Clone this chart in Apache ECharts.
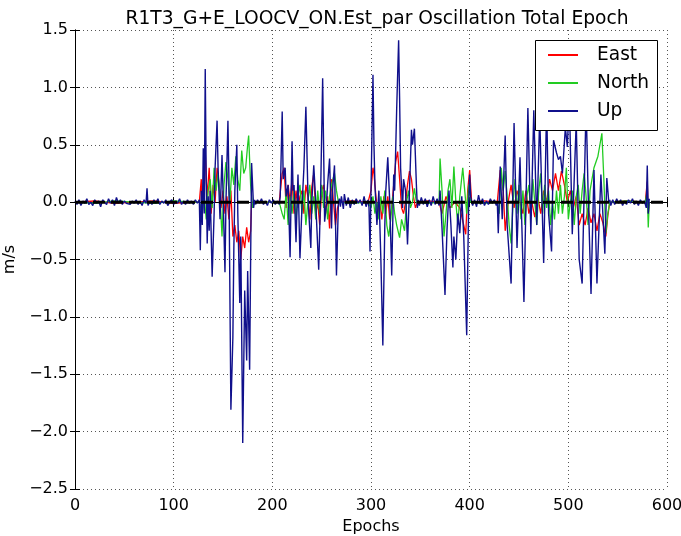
<!DOCTYPE html>
<html>
<head>
<meta charset="utf-8">
<script src="https://cdn.jsdelivr.net/npm/echarts@6/dist/echarts.min.js"></script>
<style>
html,body{margin:0;padding:0;background:#fff;}
#chart{width:681px;height:536px;}
</style>
</head>
<body>
<div id="chart"></div>
<script>
const chartTitle = 'R1T3_G+E_LOOCV_ON.Est_par Oscillation Total Epoch';
const xTicks = [0, 100, 200, 300, 400, 500, 600];
const yTicks = [-2.5, -2.0, -1.5, -1.0, -0.5, 0.0, 0.5, 1.0, 1.5];
const seriesNames = ['East', 'North', 'Up'];

// [epoch, m/s]
const eastData = [
  [0,0.0],[20,0.01],[40,-0.01],[60,0.0],[80,0.01],[100,-0.01],[120,0.0],[126,0.0],
  [127,0.0],[128,0.2],[129,-0.1],[130,0.15],[132,0.45],[133,0.2],[134,0.05],[136,0.3],[138,-0.1],[140,0.15],
  [142,0.0],[144,0.3],[146,0.15],[148,-0.05],[150,0.1],[152,-0.1],[154,0.05],[156,-0.15],[158,0.1],[160,-0.3],
  [162,-0.2],[164,-0.35],[166,-0.25],[168,-0.5],[170,-0.3],[172,-0.4],[174,-0.22],[176,-0.35],[178,-0.25],
  [179,0.0],[181,0.01],[195,0.0],[207,0.0],
  [208,0.0],[210,0.25],[212,0.3],[214,-0.05],[216,0.15],[218,0.0],[220,0.2],[222,-0.1],[224,0.1],[226,-0.05],
  [228,0.05],[230,0.1],[232,-0.1],[234,0.15],[236,0.05],[238,-0.15],[240,0.13],[242,0.25],[244,-0.1],[246,0.0],
  [248,-0.2],[250,0.1],[252,0.15],[254,-0.1],[256,0.05],[258,-0.23],[260,0.2],[262,0.0],[264,-0.2],[266,-0.05],
  [268,0.0],[280,0.01],[297,0.0],
  [298,0.0],[300,0.1],[302,0.3],[303,0.25],[305,0.05],[307,-0.1],[309,0.0],[311,-0.15],[313,0.05],[315,-0.1],
  [317,0.05],[319,-0.15],[321,-0.05],[323,0.15],[325,0.35],[327,0.44],[329,0.2],[331,-0.05],[333,-0.1],[335,0.0],
  [337,0.15],[339,0.27],[341,0.2],[343,0.05],[345,-0.05],[347,0.0],[358,0.01],[369,0.0],
  [370,0.0],[372,-0.1],[376,0.05],[380,-0.05],[385,0.0],[390,-0.05],[394,-0.2],[396,-0.28],[398,0.1],[400,0.28],
  [402,0.0],[415,0.01],[428,0.0],
  [431,0.28],[434,0.1],[436,-0.25],[439,0.0],[442,0.15],[445,-0.05],[448,0.1],[451,0.0],[454,-0.1],[457,0.1],
  [460,-0.1],[463,0.0],[466,-0.13],[469,0.05],[472,-0.1],[475,0.1],[478,0.0],[481,0.2],[484,0.1],[487,0.25],
  [490,0.1],[493,0.27],[496,0.15],[499,0.0],[502,0.1],[505,-0.05],[508,0.05],[511,-0.2],[514,-0.1],[517,-0.2],
  [520,-0.05],[523,-0.18],[526,-0.1],[529,-0.25],[532,-0.1],[535,-0.18],[538,-0.3],[540,-0.12],[542,0.0],
  [560,0.01],[578,0.0],[580,0.18],[581,-0.1],[582,0.0]
];

const northData = [
  [0,0.0],[20,-0.01],[40,0.01],[60,0.0],[80,-0.01],[100,0.01],[120,0.0],[126,0.0],
  [127,0.0],[129,-0.1],[131,0.05],[133,-0.15],[135,0.1],[137,0.2],[139,-0.05],[141,0.3],[143,0.1],[145,0.25],
  [147,0.05],[149,-0.3],[151,0.15],[153,0.35],[155,0.2],[157,0.0],[159,0.3],[161,0.15],[163,0.4],[165,0.2],
  [167,0.1],[169,0.45],[171,0.25],[173,0.3],[175,0.5],[176,0.58],[178,0.15],[180,-0.05],[182,0.0],[195,0.0],[207,0.0],
  [208,0.0],[210,-0.1],[212,-0.15],[214,0.1],[216,-0.2],[218,0.05],[220,-0.1],[222,0.1],[224,-0.15],[226,0.05],
  [228,0.15],[230,-0.1],[232,0.1],[234,-0.2],[236,0.0],[238,0.15],[240,-0.1],[242,0.05],[244,-0.15],[246,0.1],
  [248,-0.1],[250,0.15],[252,-0.05],[254,0.1],[256,-0.15],[258,0.05],[260,0.15],[263,0.25],[265,0.1],[267,0.0],
  [280,-0.01],[297,0.0],
  [298,0.0],[300,-0.05],[302,0.05],[304,-0.1],[306,0.0],[308,-0.15],[310,0.05],[312,-0.1],[314,0.1],[316,-0.2],
  [318,-0.3],[320,-0.15],[322,0.05],[324,-0.1],[326,-0.2],[329,-0.31],[331,-0.15],[334,-0.25],[336,0.0],[338,0.1],
  [340,-0.05],[342,0.0],[344,0.12],[346,0.0],[358,-0.01],[369,0.0],
  [370,0.38],[372,0.1],[374,-0.3],[376,-0.1],[378,0.1],[380,0.2],[382,-0.05],[384,0.31],[386,0.0],[388,-0.2],
  [390,0.05],[393,0.3],[395,0.1],[397,-0.1],[399,0.15],[401,0.0],[415,-0.01],[428,0.0],
  [430,-0.1],[432,0.3],[434,0.1],[436,0.27],[438,0.05],[440,-0.2],[442,-0.36],[444,0.0],[446,0.2],[448,-0.1],
  [450,0.15],[452,-0.15],[454,0.1],[456,-0.2],[458,0.05],[460,0.15],[462,-0.1],[464,0.2],[466,0.0],[468,-0.2],
  [470,0.1],[472,0.25],[474,-0.1],[476,0.15],[478,-0.05],[480,0.1],[482,-0.2],[484,0.0],[486,-0.15],[488,0.1],
  [490,-0.1],[492,0.15],[494,-0.1],[496,0.05],[498,0.3],[500,-0.15],[502,0.0],[504,0.1],[506,-0.2],[508,0.05],
  [510,0.15],[512,-0.1],[514,0.1],[516,0.25],[518,0.05],[520,-0.2],[522,0.1],[524,0.2],[526,0.3],[528,0.35],
  [530,0.4],[532,0.5],[534,0.6],[536,0.2],[538,-0.27],[540,-0.1],[542,0.0],[560,0.01],[578,0.0],
  [580,0.1],[581,-0.22],[582,0.0]
];

const upData = [
  [0,0.01],[2,-0.02],[4,0.02],[6,-0.03],[8,0.01],[10,-0.01],[12,0.03],[14,-0.02],[16,0.0],[18,-0.03],
  [20,0.02],[22,-0.01],[24,0.01],[26,-0.04],[28,0.02],[30,0.0],[32,-0.02],[34,0.03],[36,-0.01],[38,0.02],
  [40,-0.03],[42,0.04],[44,-0.01],[46,0.02],[48,-0.02],[50,0.01],[52,-0.01],[54,0.0],[56,-0.02],[58,0.01],
  [60,-0.01],[62,0.02],[64,-0.02],[66,0.01],[68,-0.03],[70,0.02],[72,-0.01],[73,0.12],[74,-0.03],[76,0.01],
  [78,-0.02],[80,0.02],[82,-0.01],[84,0.03],[86,-0.02],[88,0.01],[90,-0.01],[92,0.02],[94,-0.03],[96,0.0],
  [98,0.02],[100,-0.02],[102,0.01],[104,-0.01],[106,0.03],[108,-0.02],[110,0.01],[112,-0.02],[114,0.02],
  [116,-0.01],[118,0.01],[120,-0.02],[122,0.02],[124,-0.01],[126,0.02],
  [127,-0.42],[128,0.1],[129,-0.2],[130,0.47],[131,-0.1],[132,1.16],[133,0.2],[134,-0.36],[135,0.05],[136,-0.25],
  [137,0.1],[139,-0.65],[141,-0.1],[142,0.3],[144,0.71],[145,0.3],[147,-0.15],[149,0.41],[150,0.1],[152,-0.61],
  [153,0.0],[155,0.71],[156,0.2],[158,-1.81],[160,-1.18],[161,-0.4],[162,0.1],[164,0.5],[165,-0.1],[167,-0.88],
  [168,-0.3],[170,-2.1],[172,-0.77],[174,-1.38],[175,-0.6],[177,-1.46],[178,-0.5],[179,0.34],[181,-0.05],[182,0.02],
  [183,-0.02],[185,0.02],[187,-0.01],[189,0.03],[191,-0.02],[193,0.01],[195,-0.03],[197,0.02],[199,-0.01],
  [201,0.02],[203,-0.02],[205,0.01],[207,-0.02],
  [208,0.05],[210,0.79],[211,0.2],[213,0.30],[214,0.05],[216,0.15],[218,-0.48],[220,0.53],[221,0.1],[222,0.15],
  [224,-0.35],[226,0.24],[228,-0.49],[230,-0.05],[232,0.3],[234,0.83],[236,0.1],[237,-0.1],[239,-0.4],[240,0.0],
  [242,0.32],[244,0.0],[245,-0.2],[247,-0.59],[249,0.1],[251,1.08],[253,-0.17],[255,0.0],[256,0.15],[258,0.38],
  [260,-0.23],[261,0.1],[263,0.32],[265,-0.64],[267,0.0],[268,0.03],
  [269,-0.04],[270,0.05],[272,-0.06],[273,0.07],[275,-0.03],[277,0.04],[279,-0.05],[281,0.02],[283,-0.02],
  [285,0.03],[287,-0.01],[289,0.02],[291,-0.03],[293,0.05],[295,-0.04],[297,0.02],
  [298,-0.05],[299,-0.43],[300,0.1],[302,1.11],[303,0.5],[304,0.15],[306,-0.2],[308,0.1],[310,-0.5],[312,-1.25],
  [314,-0.2],[315,0.1],[317,0.39],[319,0.0],[321,-0.64],[323,0.24],[324,0.1],[326,0.8],[328,1.41],[329,0.9],
  [330,0.3],[332,-0.05],[333,0.2],[335,0.1],[337,-0.37],[339,0.1],[341,0.63],[342,0.5],[344,0.64],[345,0.4],
  [346,0.15],[347,-0.05],[348,0.02],
  [349,-0.03],[351,0.04],[353,-0.02],[355,0.03],[357,-0.04],[359,0.02],[361,-0.03],[363,0.05],[365,-0.02],
  [367,0.03],[369,-0.03],
  [370,0.1],[372,-0.23],[375,-0.81],[377,-0.25],[379,0.1],[381,-0.2],[383,-0.57],[384,-0.3],[386,-0.5],[388,-0.1],
  [390,-0.27],[392,0.05],[394,-0.3],[397,-1.16],[399,0.0],[400,0.24],[401,0.05],[402,0.0],
  [403,-0.03],[405,0.02],[407,-0.04],[409,0.06],[411,-0.02],[413,0.03],[415,-0.03],[417,0.01],[419,-0.02],
  [421,0.03],[423,-0.01],[425,0.02],[427,-0.03],
  [428,0.0],[429,-0.27],[431,0.31],[433,-0.15],[436,0.58],[438,-0.2],[442,-0.71],[445,0.69],[448,-0.40],[451,0.39],
  [455,-0.87],[459,0.82],[462,-0.28],[465,0.8],[468,-0.2],[471,0.75],[475,-0.53],[478,0.85],[480,-0.1],[483,-0.43],
  [485,0.54],[488,0.43],[490,0.37],[492,0.40],[494,0.25],[497,0.65],[499,0.48],[501,0.9],[504,-0.28],[508,0.7],
  [511,-0.5],[514,-0.71],[518,0.85],[520,0.1],[523,-0.8],[526,0.28],[529,-0.71],[533,0.24],[537,-0.45],[539,0.21],
  [541,0.0],[542,0.02],
  [543,-0.03],[545,0.02],[547,-0.02],[549,0.03],[551,-0.01],[553,0.02],[555,-0.03],[557,0.01],[559,-0.02],
  [561,0.02],[563,-0.01],[565,0.03],[567,-0.02],[569,0.01],[571,-0.03],[573,0.02],[575,-0.01],[577,0.01],
  [578,-0.02],[579,-0.05],[580,0.32],[581,-0.1],[582,0.03]
];

const zeroLine = [[0, 0], [600, 0]];

const FONT = "'DejaVu Sans'";
const fmtY = v => v.toFixed(1).replace('-', '\u2212');

const chart = echarts.init(document.getElementById('chart'), null, {renderer: 'canvas'});

const baseAxisLine = {show: true, lineStyle: {color: '#000', width: 1}};
const tick = {show: true, inside: true, length: 5, lineStyle: {color: '#000', width: 1}};
const grid = {show: true, lineStyle: {color: '#555', width: 1, type: [1, 3]}};

// legend box geometry (layout only)
const LEG = {x: 535, y: 40, w: 122, h: 90};

chart.setOption({
  animation: false,
  backgroundColor: '#fff',
  title: {
    text: chartTitle,
    left: 372, top: 5,
    textAlign: 'center',
    textStyle: {fontFamily: FONT, fontSize: 18.7, fontWeight: 'normal', color: '#000'}
  },
  graphic: {
    elements: [{
      type: 'rect', zlevel: 2, z: 1, silent: true,
      shape: {x: LEG.x + 0.5, y: LEG.y + 0.5, width: LEG.w, height: LEG.h},
      style: {fill: '#ffffff', stroke: '#000', lineWidth: 1}
    }]
  },
  legend: {
    data: seriesNames,
    left: LEG.x, top: LEG.y,
    orient: 'vertical',
    padding: [4, 8, 8, 13],
    itemGap: 6,
    itemWidth: 30, itemHeight: 2,
    icon: 'rect',
    selectedMode: false,
    textStyle: {fontFamily: FONT, fontSize: 18.6, color: '#000', padding: [0, 0, 0, 14], lineHeight: 22},
    zlevel: 3, z: 1
  },
  grid: {left: 75, right: 14, top: 30, bottom: 47, containLabel: false, outerBoundsMode: 'none'},
  xAxis: [
    {
      type: 'value', min: xTicks[0], max: xTicks[xTicks.length - 1], interval: 100,
      position: 'bottom',
      name: 'Epochs', nameLocation: 'middle', nameGap: 28,
      nameTextStyle: {fontFamily: FONT, fontSize: 16, color: '#000'},
      axisLine: baseAxisLine, axisTick: tick,
      axisLabel: {fontFamily: FONT, fontSize: 16, color: '#000', margin: 9},
      splitLine: grid
    },
    {
      type: 'value', min: xTicks[0], max: xTicks[xTicks.length - 1], interval: 100,
      position: 'top',
      axisLine: baseAxisLine, axisTick: tick,
      axisLabel: {show: false}, splitLine: {show: false}
    }
  ],
  yAxis: [
    {
      type: 'value', min: yTicks[0], max: yTicks[yTicks.length - 1], interval: 0.5,
      position: 'left',
      name: 'm/s', nameLocation: 'middle', nameGap: 43,
      nameTextStyle: {fontFamily: FONT, fontSize: 16, color: '#000'},
      axisLine: baseAxisLine, axisTick: tick,
      axisLabel: {fontFamily: FONT, fontSize: 16, color: '#000', margin: 7, formatter: fmtY},
      splitLine: grid
    },
    {
      type: 'value', min: yTicks[0], max: yTicks[yTicks.length - 1], interval: 0.5,
      position: 'right',
      axisLine: baseAxisLine, axisTick: tick,
      axisLabel: {show: false}, splitLine: {show: false}
    }
  ],
  series: [
    {name: seriesNames[0], type: 'line', data: eastData, showSymbol: false, symbol: 'none',
     lineStyle: {color: '#ff0000', width: 1.3}, itemStyle: {color: '#ff0000'}, zlevel: 0, z: 2},
    {name: seriesNames[1], type: 'line', data: northData, showSymbol: false, symbol: 'none',
     lineStyle: {color: '#22cc22', width: 1.3}, itemStyle: {color: '#22cc22'}, zlevel: 0, z: 3},
    {name: seriesNames[2], type: 'line', data: upData, showSymbol: false, symbol: 'none',
     lineStyle: {color: '#10108c', width: 1.4}, itemStyle: {color: '#10108c'}, zlevel: 0, z: 4},
    {name: 'zero', type: 'line', data: zeroLine, showSymbol: false, symbol: 'none',
     lineStyle: {color: '#000', width: 3, type: 'dashed'}, zlevel: 0, z: 5, silent: true}
  ]
});
</script>
</body>
</html>
